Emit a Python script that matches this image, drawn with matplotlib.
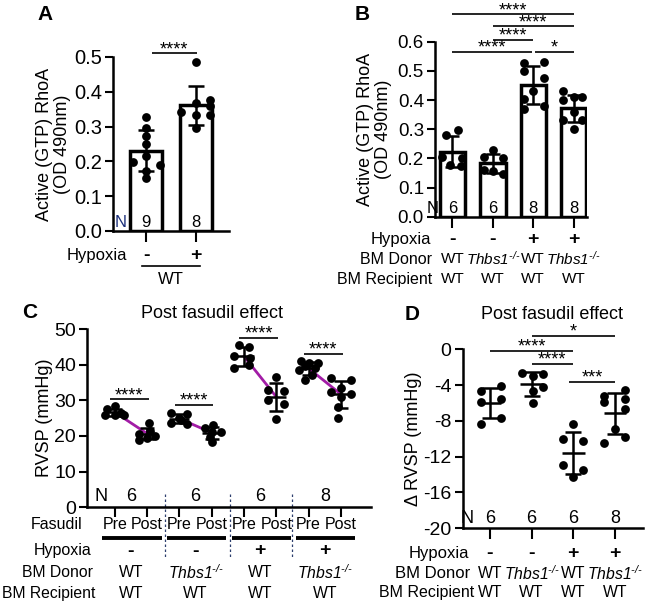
import numpy as np
import matplotlib
matplotlib.use('Agg')
import matplotlib.pyplot as plt
from matplotlib.transforms import blended_transform_factory as btf

plt.rcParams['font.family'] = ['Liberation Sans', 'DejaVu Sans']
plt.rcParams['mathtext.fontset'] = 'custom'
plt.rcParams['mathtext.rm'] = 'Liberation Sans:italic'
plt.rcParams['mathtext.it'] = 'Liberation Sans:italic'

# ---------------- data ----------------
# Panel A: active RhoA, WT, normoxia vs hypoxia
a_hypoxia = ['-', '+']
a_n = ['9', '8']
a_normoxia_vals = [0.327, 0.295, 0.272, 0.250, 0.216, 0.198, 0.190, 0.173, 0.152]
a_hypoxia_vals = [0.485, 0.377, 0.368, 0.360, 0.341, 0.333, 0.333, 0.295]

# Panel B: active RhoA by BM donor / hypoxia
b_hypoxia = ['-', '-', '+', '+']
b_donor = ['WT', 'Thbs1', 'WT', 'Thbs1']
b_recipient = ['WT', 'WT', 'WT', 'WT']
b_n = ['6', '6', '8', '8']
b_vals = [
    [0.280, 0.297, 0.205, 0.200, 0.178, 0.175],
    [0.228, 0.205, 0.200, 0.160, 0.158, 0.148],
    [0.527, 0.532, 0.500, 0.476, 0.430, 0.402, 0.368, 0.379],
    [0.430, 0.410, 0.410, 0.400, 0.360, 0.330, 0.330, 0.300],
]
b_sig = [(0, 3, '****'), (1, 3, '****'), (1, 2, '****'), (0, 2, '****'), (2, 3, '*')]
b_sig_y = [0.694, 0.653, 0.607, 0.565, 0.565]

# Panel C: RVSP pre / post fasudil
c_fasudil = ['Pre', 'Post']
c_hypoxia = ['-', '-', '+', '+']
c_donor = ['WT', 'Thbs1', 'WT', 'Thbs1']
c_recipient = ['WT', 'WT', 'WT', 'WT']
c_n = ['6', '6', '6', '8']
c_pre = [
    [28.3, 27.5, 26.5, 26.0, 25.8, 25.9],
    [26.5, 26.3, 25.0, 24.5, 23.5, 23.4],
    [45.5, 45.0, 42.5, 42.0, 40.0, 39.0],
    [41.0, 40.5, 40.5, 39.5, 39.0, 38.5, 37.0, 35.8],
]
c_post = [
    [23.5, 21.5, 20.5, 20.0, 19.5, 19.0],
    [23.0, 22.2, 21.2, 21.0, 19.8, 18.3],
    [36.5, 33.0, 32.5, 30.0, 29.0, 24.8],
    [36.2, 35.8, 33.5, 32.2, 31.8, 31.0, 28.0, 25.0],
]
c_sig_y = [30.3, 28.7, 47.5, 43.1]

# Panel D: delta RVSP
d_hypoxia = ['-', '-', '+', '+']
d_donor = ['WT', 'Thbs1', 'WT', 'Thbs1']
d_recipient = ['WT', 'WT', 'WT', 'WT']
d_n = ['6', '6', '6', '8']
d_vals = [
    [-4.10, -4.63, -5.55, -5.85, -7.70, -8.37],
    [-2.60, -2.80, -3.00, -4.26, -4.70, -5.96],
    [-8.37, -10.0, -10.3, -12.9, -13.5, -14.26],
    [-4.56, -5.20, -5.56, -5.93, -6.70, -8.93, -9.80, -10.5],
]
d_sig = [(1, 3, '*'), (0, 2, '****'), (1, 2, '****'), (1.9, 3, '***')]
d_sig_y = [1.5, -0.2, -1.6, -3.62]

# ---------------- layout (jitter offsets, positions) ----------------
a_jit = [[0, 0, 0, 0, 0, -0.26, 0.27, 0, 0],
         [0, 0.27, 0, 0.27, -0.3, 0, 0.27, 0]]
b_jit = [[-0.15, 0.15, -0.25, 0.25, -0.05, 0.22],
         [0.0, -0.22, 0.25, -0.22, 0.0, 0.25],
         [-0.22, 0.27, -0.22, 0.27, 0.0, -0.22, -0.22, 0.27],
         [-0.26, 0.0, 0.2, -0.26, 0.0, -0.26, 0.2, 0.0]]
c_jit_pre = [[0, -0.25, 0.2, -0.3, 0, 0.3],
             [-0.25, 0.25, 0, 0.05, -0.25, 0.25],
             [-0.15, 0.15, -0.3, 0.2, 0.15, -0.3],
             [-0.25, 0, 0.3, -0.1, 0.2, -0.3, 0.1, -0.1]]
c_jit_post = [[0.05, 0.1, -0.25, 0.25, 0.0, -0.25],
              [0.05, -0.2, 0.3, 0, -0.05, 0],
              [0, -0.25, 0.25, -0.25, 0.25, 0],
              [-0.3, 0.3, 0, -0.3, 0.3, 0, -0.1, -0.1]]
d_jit = [[0.26, -0.22, 0.26, -0.22, 0.26, -0.22],
         [-0.22, 0.28, 0.04, 0.28, 0.04, 0.04],
         [0, -0.24, 0.24, -0.24, 0.24, 0],
         [0.24, -0.26, 0.24, -0.26, 0.24, 0, 0.24, -0.26]]

W, H = 650, 606
fig = plt.figure(figsize=(W / 100, H / 100), dpi=100)
fig.patch.set_facecolor('white')

LAB_FS = 13
ROW_FS = 12
SIG_FS = 13
DOT_S = 40
LW = 1.8


def fy(px):
    return 1 - px / H


def px_axes(l, t, r, b):
    return fig.add_axes([l / W, 1 - b / H, (r - l) / W, (b - t) / H])


def style(ax, tick_fs):
    for s in ['top', 'right']:
        ax.spines[s].set_visible(False)
    for s in ['left', 'bottom']:
        ax.spines[s].set_linewidth(LW)
    ax.tick_params(axis='y', width=1.5, length=6, labelsize=tick_fs, pad=2)
    ax.tick_params(axis='x', width=1.5, length=8, labelbottom=False)
    ax.patch.set_alpha(0)


def donor_label(s):
    if s == 'Thbs1':
        return r'$Thbs1^{\text{-/-}}$'
    return s


def rows(ax, y_px, xs, labels, name, name_x_px, fs=ROW_FS, name_fs=None):
    tr = btf(ax.transData, fig.transFigure)
    for x, l in zip(xs, labels):
        ax.text(x, fy(y_px), donor_label(l), transform=tr, ha='center', va='center',
                fontsize=fs, clip_on=False)
    fig.text(name_x_px / W, fy(y_px), name, ha='right', va='center', fontsize=name_fs or fs)


def sig(ax, x0, x1, y, txt, fs=SIG_FS):
    ax.plot([x0, x1], [y, y], color='k', lw=1.2, clip_on=False, solid_capstyle='butt')
    ax.annotate(txt, xy=((x0 + x1) / 2, y), xytext=(0, -3.5), textcoords='offset points',
                ha='center', va='bottom', fontsize=fs, annotation_clip=False)


# ================= Panel A =================
axA = px_axes(113, 57, 229, 231)
style(axA, 14.5)
a_sets = [a_normoxia_vals, a_hypoxia_vals]
xa = np.arange(2)
means = [np.mean(v) for v in a_sets]
sds = [np.std(v, ddof=1) for v in a_sets]
axA.bar(xa, means, width=0.64, color='white', edgecolor='k', linewidth=2.5, zorder=1)
axA.errorbar(xa, means, yerr=sds, fmt='none', ecolor='k', elinewidth=LW, capsize=6, capthick=LW, zorder=3)
for i, v in enumerate(a_sets):
    axA.scatter(xa[i] + np.array(a_jit[i]), v, s=DOT_S, color='k', zorder=4, clip_on=False, linewidths=0)
axA.set_ylim(0, 0.5)
axA.set_xlim(-0.66, 1.66)
axA.set_yticks(np.arange(0, 0.51, 0.1))
axA.set_yticklabels([f'{t:.1f}' for t in np.arange(0, 0.51, 0.1)])
axA.set_xticks(xa)
axA.set_ylabel('Active (GTP) RhoA\n(OD 490nm)', fontsize=LAB_FS, labelpad=2, linespacing=1.1)
axA.text(-0.51, 0.003, 'N', ha='center', va='bottom', fontsize=ROW_FS, color='#1b2f7a')
for x, n in zip(xa, a_n):
    axA.text(x, 0.003, n, ha='center', va='bottom', fontsize=ROW_FS)
sig(axA, 0.11, 1.01, 0.511, '****')
trA = btf(axA.transData, fig.transFigure)
for x, l in zip(xa, a_hypoxia):
    axA.text(x, fy(255.7), l, transform=trA, ha='center', va='center', fontsize=ROW_FS + 2,
             fontweight='bold', clip_on=False)
fig.text(127 / W, fy(255.7), 'Hypoxia', ha='right', va='center', fontsize=ROW_FS)
axA.plot([-0.09, 1.07], [fy(265.7)] * 2, transform=trA, color='k', lw=1.2, clip_on=False)
axA.text(0.5, fy(279), 'WT', transform=trA, ha='center', va='center', fontsize=ROW_FS)
fig.text(37 / W, fy(14), 'A', fontsize=15, fontweight='bold', ha='left', va='center')

# ================= Panel B =================
axB = px_axes(435, 41.7, 587, 216.7)
style(axB, 13.5)
xb = np.arange(4)
means = [np.mean(v) for v in b_vals]
sds = [np.std(v, ddof=1) for v in b_vals]
axB.bar(xb, means, width=0.63, color='white', edgecolor='k', linewidth=2.5, zorder=1)
axB.errorbar(xb, means, yerr=sds, fmt='none', ecolor='k', elinewidth=LW, capsize=5, capthick=LW, zorder=3)
for i, v in enumerate(b_vals):
    axB.scatter(xb[i] + np.array(b_jit[i]), v, s=DOT_S, color='k', zorder=4, clip_on=False, linewidths=0)
axB.set_ylim(0, 0.6)
axB.set_xlim(-0.43, 3.33)
axB.set_yticks(np.arange(0, 0.61, 0.1))
axB.set_yticklabels([f'{t:.1f}' for t in np.arange(0, 0.61, 0.1)])
axB.set_xticks(xb)
axB.set_ylabel('Active (GTP) RhoA\n(OD 490nm)', fontsize=LAB_FS, labelpad=4, linespacing=1.1)
axB.text(-0.5, 0.003, 'N', ha='center', va='bottom', fontsize=ROW_FS)
for x, n in zip(xb, b_n):
    axB.text(x, 0.003, n, ha='center', va='bottom', fontsize=ROW_FS)
for (x0, x1, t), y in zip(b_sig, b_sig_y):
    g0 = 0.04 if x0 == 2 else 0
    g1 = -0.04 if (x1 == 2 and x0 == 0) else 0
    sig(axB, x0 + g0, x1 + g1, y, t)
trB = btf(axB.transData, fig.transFigure)
for x, l in zip(xb, b_hypoxia):
    axB.text(x, fy(239), l, transform=trB, ha='center', va='center', fontsize=ROW_FS + 2,
             fontweight='bold', clip_on=False)
fig.text(431 / W, fy(239), 'Hypoxia', ha='right', va='center', fontsize=ROW_FS)
rows(axB, 259, xb, b_donor, 'BM Donor', 432, fs=11, name_fs=11.5)
rows(axB, 279.3, xb, b_recipient, 'BM Recipient', 432, fs=11, name_fs=11.5)
fig.text(355 / W, fy(14), 'B', fontsize=15, fontweight='bold', ha='left', va='center')

# ================= Panel C =================
axC = px_axes(87.3, 329, 371, 507.3)
style(axC, 14)
xc = np.arange(8)
axC.set_ylim(0, 50)
axC.set_xlim(-0.85, 7.93)
axC.set_yticks(np.arange(0, 51, 10))
axC.set_xticks(xc)
axC.tick_params(axis='x', length=7)
axC.set_ylabel('RVSP (mmHg)', fontsize=LAB_FS, labelpad=1)
for g in range(4):
    pre, post = c_pre[g], c_post[g]
    xp, xq = 2 * g, 2 * g + 1
    mp, mq = np.mean(pre), np.mean(post)
    axC.plot([xp, xq], [mp, mq], color='#a21ca6', lw=2, zorder=3)
    for x, v, j in [(xp, pre, c_jit_pre[g]), (xq, post, c_jit_post[g])]:
        m, s = np.mean(v), np.std(v, ddof=1)
        axC.scatter(x + np.array(j), v, s=DOT_S, color='k', zorder=4, linewidths=0, clip_on=False)
        axC.hlines(m, x - 0.31, x + 0.31, color='k', lw=LW, zorder=5)
        axC.errorbar(x, m, yerr=s, fmt='none', ecolor='k', elinewidth=LW, capsize=5, capthick=LW, zorder=5)
    sig(axC, xp - 0.15, xq + 0.05, c_sig_y[g], '****')
    axC.text(2 * g + 0.5, 0.6, c_n[g], ha='center', va='bottom', fontsize=ROW_FS + 1)
axC.text(-0.41, 0.6, 'N', ha='center', va='bottom', fontsize=ROW_FS + 1)
trC = btf(axC.transData, fig.transFigure)
axC.text(3.0, fy(313), 'Post fasudil effect', transform=trC, ha='center', va='center', fontsize=LAB_FS)
for sx in [1.56, 3.57, 5.5]:
    axC.plot([sx, sx], [fy(494), fy(557)], transform=trC, color='#2d3f6e', lw=0.9,
             ls=(0, (2, 2)), clip_on=False)
for g in range(4):
    for k, lab in enumerate(c_fasudil):
        axC.text(2 * g + k, fy(524.3), lab, transform=trC, ha='center', va='center',
                 fontsize=11.5, clip_on=False)
    axC.plot([2 * g - 0.38, 2 * g + 1.45], [fy(537.5)] * 2, transform=trC, color='k', lw=2.8,
             clip_on=False, solid_capstyle='butt')
fig.text(82 / W, fy(524.3), 'Fasudil', ha='right', va='center', fontsize=11.5)
cx = [2 * g + 0.5 for g in range(4)]
for x, l in zip(cx, c_hypoxia):
    axC.text(x, fy(551), l, transform=trC, ha='center', va='center', fontsize=ROW_FS + 2,
             fontweight='bold', clip_on=False)
fig.text(91 / W, fy(551), 'Hypoxia', ha='right', va='center', fontsize=11.5)
rows(axC, 572.7, cx, c_donor, 'BM Donor', 93, fs=11.3)
rows(axC, 593.3, cx, c_recipient, 'BM Recipient', 95, fs=11.3)
fig.text(22 / W, fy(313), 'C', fontsize=15, fontweight='bold', ha='left', va='center')

# ================= Panel D =================
axD = px_axes(462.7, 349.3, 643, 528.3)
style(axD, 14)
xd = np.arange(4)
axD.set_ylim(-20, 0)
axD.set_xlim(-0.65, 3.67)
axD.set_yticks(np.arange(-20, 1, 4))
axD.set_yticklabels([f'{t:d}' for t in np.arange(-20, 1, 4)])
axD.set_xticks(xd)
axD.set_ylabel('\u0394 RVSP (mmHg)', fontsize=LAB_FS, labelpad=1)
for i, v in enumerate(d_vals):
    m, s = np.mean(v), np.std(v, ddof=1)
    axD.scatter(xd[i] + np.array(d_jit[i]), v, s=DOT_S, color='k', zorder=4, linewidths=0, clip_on=False)
    axD.hlines(m, xd[i] - 0.27, xd[i] + 0.27, color='k', lw=LW, zorder=5)
    axD.errorbar(xd[i], m, yerr=s, fmt='none', ecolor='k', elinewidth=LW, capsize=6, capthick=LW, zorder=5)
for (x0, x1, t), y in zip(d_sig, d_sig_y):
    sig(axD, x0, x1, y, t)
axD.text(-0.54, -19.8, 'N', ha='center', va='bottom', fontsize=ROW_FS + 1)
for x, n in zip(xd, d_n):
    axD.text(x, -19.8, n, ha='center', va='bottom', fontsize=ROW_FS + 1)
trD = btf(axD.transData, fig.transFigure)
axD.text(1.48, fy(314), 'Post fasudil effect', transform=trD, ha='center', va='center', fontsize=LAB_FS)
for x, l in zip(xd, d_hypoxia):
    axD.text(x, fy(553.3), l, transform=trD, ha='center', va='center', fontsize=ROW_FS + 2,
             fontweight='bold', clip_on=False)
fig.text(469 / W, fy(553.3), 'Hypoxia', ha='right', va='center', fontsize=ROW_FS)
rows(axD, 573.3, xd, d_donor, 'BM Donor', 470, fs=11.3, name_fs=12)
rows(axD, 592.7, xd, d_recipient, 'BM Recipient', 474, fs=11.3, name_fs=11.5)
fig.text(405 / W, fy(314), 'D', fontsize=15, fontweight='bold', ha='left', va='center')

fig.savefig('out.png', dpi=100, facecolor='white')
